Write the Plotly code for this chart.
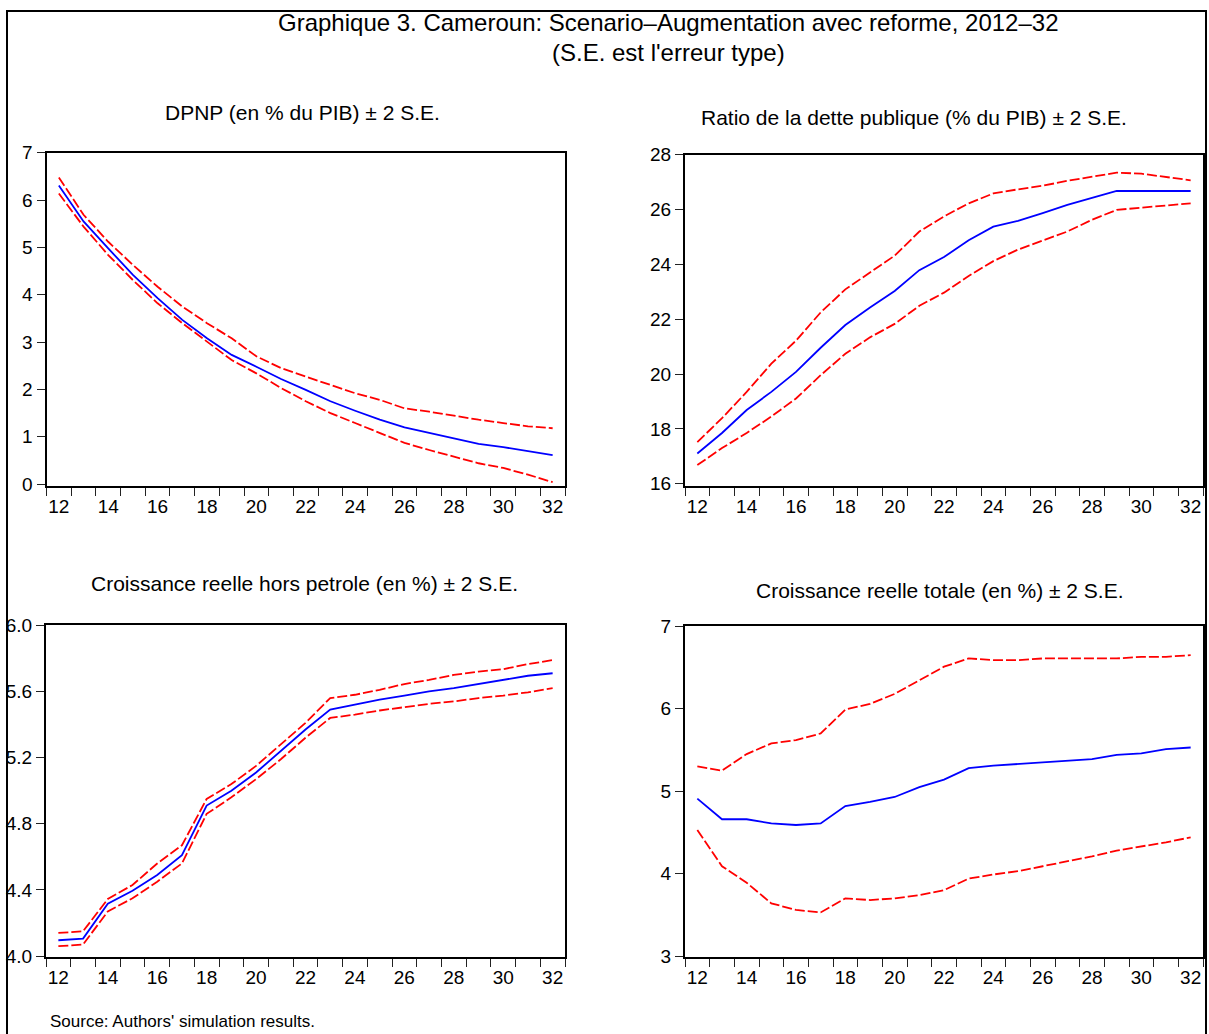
import plotly.graph_objects as go

years = list(range(12, 33))
tick_labels = [str(y) for y in range(12, 33, 2)]

# Panel 1: DPNP (en % du PIB)
dpnp_mid = [6.31, 5.55, 4.98, 4.42, 3.93, 3.47, 3.08, 2.73, 2.48, 2.22, 1.99,
            1.75, 1.55, 1.36, 1.20, 1.08, 0.96, 0.85, 0.78, 0.70, 0.61]
dpnp_up = [6.48, 5.69, 5.12, 4.63, 4.17, 3.75, 3.40, 3.08, 2.70, 2.45, 2.27,
           2.10, 1.92, 1.78, 1.60, 1.53, 1.44, 1.36, 1.29, 1.22, 1.18]
dpnp_lo = [6.14, 5.44, 4.84, 4.31, 3.82, 3.40, 3.01, 2.62, 2.34, 2.03, 1.75,
           1.50, 1.29, 1.08, 0.87, 0.72, 0.58, 0.44, 0.34, 0.20, 0.04]

# Panel 2: Ratio de la dette publique (% du PIB)
debt_mid = [17.10, 17.85, 18.69, 19.35, 20.08, 20.96, 21.79, 22.43, 23.03, 23.79, 24.27,
            24.88, 25.38, 25.59, 25.87, 26.17, 26.43, 26.68, 26.68, 26.68, 26.68]
debt_up = [17.52, 18.39, 19.35, 20.38, 21.22, 22.25, 23.09, 23.70, 24.32, 25.20, 25.75,
           26.23, 26.59, 26.74, 26.87, 27.05, 27.19, 27.35, 27.31, 27.19, 27.07]
debt_lo = [16.68, 17.30, 17.85, 18.45, 19.11, 19.96, 20.74, 21.34, 21.83, 22.49, 22.97,
           23.58, 24.12, 24.54, 24.87, 25.20, 25.63, 25.99, 26.07, 26.14, 26.23]

# Panel 3: Croissance reelle hors petrole (en %)
nonoil_mid = [4.096, 4.106, 4.317, 4.395, 4.49, 4.61, 4.91, 5.00, 5.11, 5.24, 5.37,
              5.49, 5.52, 5.55, 5.575, 5.60, 5.62, 5.645, 5.67, 5.695, 5.71]
nonoil_up = [4.14, 4.15, 4.345, 4.43, 4.56, 4.67, 4.95, 5.04, 5.15, 5.28, 5.41,
             5.56, 5.58, 5.61, 5.645, 5.67, 5.70, 5.72, 5.735, 5.765, 5.79]
nonoil_lo = [4.06, 4.07, 4.27, 4.35, 4.45, 4.56, 4.86, 4.96, 5.07, 5.19, 5.32,
             5.44, 5.46, 5.485, 5.505, 5.525, 5.54, 5.56, 5.575, 5.595, 5.62]

# Panel 4: Croissance reelle totale (en %)
total_mid = [4.91, 4.66, 4.66, 4.61, 4.59, 4.61, 4.82, 4.87, 4.93, 5.05, 5.14,
             5.28, 5.31, 5.33, 5.35, 5.37, 5.39, 5.44, 5.46, 5.51, 5.53]
total_up = [5.30, 5.25, 5.45, 5.58, 5.62, 5.70, 5.99, 6.06, 6.18, 6.34, 6.51,
            6.61, 6.59, 6.59, 6.61, 6.61, 6.61, 6.61, 6.63, 6.63, 6.65]
total_lo = [4.53, 4.09, 3.89, 3.64, 3.56, 3.53, 3.70, 3.68, 3.70, 3.74, 3.80,
            3.94, 3.99, 4.03, 4.09, 4.15, 4.21, 4.28, 4.33, 4.38, 4.44]

titles = ["DPNP (en % du PIB) ± 2 S.E.",
          "Ratio de la dette publique (% du PIB) ± 2 S.E.",
          "Croissance reelle hors petrole (en %) ± 2 S.E.",
          "Croissance reelle totale (en %) ± 2 S.E."]
main_title_1 = "Graphique 3. Cameroun: Scenario–Augmentation avec reforme, 2012–32"
main_title_2 = "(S.E. est l'erreur type)"
source_text = "Source: Authors' simulation results."

W, H = 1209, 1034
FONT = "Liberation Sans, Arial, sans-serif"

# vertical calibration of the rendered page (observed = A * layout_px + B)
A, B = 0.9817, 9.05


def px(x):
    return x / W


def py(y):
    y_in = (y - B) / A
    return 1 - y_in / H


panels = [
    dict(series=(dpnp_lo, dpnp_up, dpnp_mid), box=(46.5, 565, 152, 486),
         yrange=[-0.05, 7], ytick=[0, 1, 2, 3, 4, 5, 6, 7], fmt="d",
         title_xy=(302, 112)),
    dict(series=(debt_lo, debt_up, debt_mid), box=(685, 1203, 154, 486),
         yrange=[15.9, 28], ytick=[16, 18, 20, 22, 24, 26, 28], fmt="d",
         title_xy=(914, 117)),
    dict(series=(nonoil_lo, nonoil_up, nonoil_mid), box=(46, 565, 625, 957),
         yrange=[3.995, 6.0], ytick=[4.0, 4.4, 4.8, 5.2, 5.6, 6.0], fmt=".1f",
         title_xy=(304, 583)),
    dict(series=(total_lo, total_up, total_mid), box=(685, 1203, 626, 957),
         yrange=[2.99, 7], ytick=[3, 4, 5, 6, 7], fmt="d",
         title_xy=(940, 590)),
]

fig = go.Figure()
layout = dict(
    width=W, height=H,
    margin=dict(l=0, r=0, t=0, b=0),
    paper_bgcolor="white", plot_bgcolor="white",
    showlegend=False,
    font=dict(family=FONT, color="black"),
    annotations=[], shapes=[],
)

for i, p in enumerate(panels, start=1):
    xa = "x" if i == 1 else f"x{i}"
    ya = "y" if i == 1 else f"y{i}"
    lo, up, mid = p["series"]
    for s in (lo, up):
        fig.add_trace(go.Scatter(x=years, y=s, mode="lines", xaxis=xa, yaxis=ya,
                                 line=dict(color="#FF0000", width=1.8, dash="10px,3px"),
                                 hoverinfo="skip"))
    fig.add_trace(go.Scatter(x=years, y=mid, mode="lines", xaxis=xa, yaxis=ya,
                             line=dict(color="#0000FF", width=1.8), hoverinfo="skip"))
    x0, x1, y0, y1 = p["box"]
    xname = "xaxis" if i == 1 else f"xaxis{i}"
    yname = "yaxis" if i == 1 else f"yaxis{i}"
    layout[xname] = dict(
        domain=[px(x0), px(x1)], anchor=ya, range=[11.5, 32.5],
        tickmode="array", tickvals=list(range(12, 33, 2)), ticktext=tick_labels,
        ticks="outside", ticklen=2, tickcolor="rgba(0,0,0,0)",
        showline=True, linecolor="black", linewidth=2, mirror=True,
        showgrid=False, zeroline=False,
        tickfont=dict(size=19, color="black", family=FONT),
        minor=dict(tickmode="array", tickvals=[11.5 + k for k in range(22)],
                   ticks="outside", ticklen=8, tickwidth=1, tickcolor="#222",
                   showgrid=False),
    )
    layout[yname] = dict(
        domain=[py(y1), py(y0)], anchor=xa, range=p["yrange"],
        tickmode="array", tickvals=p["ytick"],
        ticktext=[format(v, p["fmt"]) if p["fmt"] != "d" else str(int(v)) for v in p["ytick"]],
        ticks="outside", ticklen=8, tickwidth=1, tickcolor="#222",
        showline=True, linecolor="black", linewidth=2, mirror=True,
        showgrid=False, zeroline=False,
        tickfont=dict(size=19, color="black", family=FONT),
    )
    tx, ty = p["title_xy"]
    layout["annotations"].append(dict(
        text=titles[i - 1], x=px(tx), y=py(ty), xref="paper", yref="paper",
        xanchor="center", yanchor="middle", showarrow=False,
        font=dict(size=21, color="black", family=FONT)))

layout["annotations"] += [
    dict(text=main_title_1, x=px(668), y=py(22), xref="paper", yref="paper",
         xanchor="center", yanchor="middle", showarrow=False,
         font=dict(size=24, color="black", family=FONT)),
    dict(text=main_title_2, x=px(668), y=py(52), xref="paper", yref="paper",
         xanchor="center", yanchor="middle", showarrow=False,
         font=dict(size=24, color="black", family=FONT)),
    dict(text=source_text, x=px(48), y=py(1022), xref="paper", yref="paper",
         xanchor="left", yanchor="middle", showarrow=False,
         font=dict(size=17, color="black", family=FONT)),
]

layout["shapes"].append(dict(
    type="rect", xref="paper", yref="paper",
    x0=px(7), x1=px(1206), y0=-0.05, y1=0.999,
    line=dict(color="black", width=2), fillcolor="rgba(0,0,0,0)", layer="above"))

fig.update_layout(**layout)

pin_script = (
    "document.documentElement.style.margin='0';"
    "document.body.style.margin='0';"
    "document.body.style.overflow='hidden';"
    "var gd=document.getElementById('{plot_id}');"
    "gd.style.position='fixed';gd.style.left='0px';gd.style.top='0px';"
)
fig.write_html("out.html", config={"displayModeBar": False}, post_script=pin_script)
